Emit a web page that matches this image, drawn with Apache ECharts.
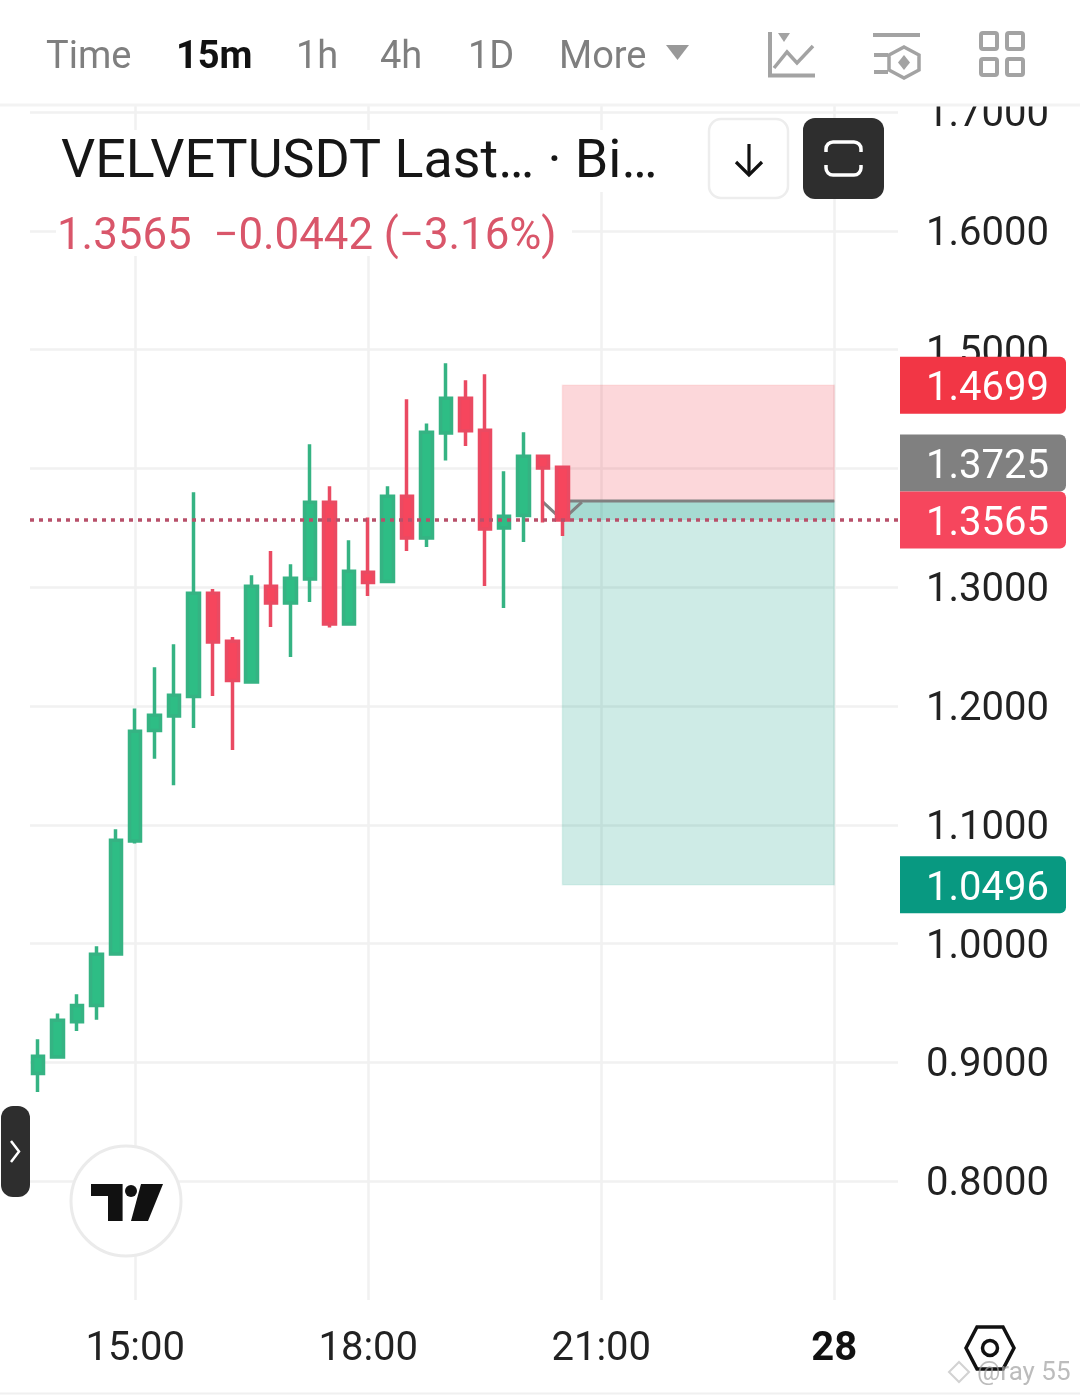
<!DOCTYPE html>
<html><head><meta charset="utf-8">
<style>html,body{margin:0;padding:0;background:#fff}#c{width:1080px;height:1395px}</style>
<script src="https://cdn.jsdelivr.net/npm/echarts@6/dist/echarts.min.js"></script>
</head><body><div id="c"></div>
<script>
const categories = ['13:45','14:00','14:15','14:30','14:45','15:00','15:15','15:30','15:45','16:00','16:15','16:30','16:45','17:00','17:15','17:30','17:45','18:00','18:15','18:30','18:45','19:00','19:15','19:30','19:45','20:00','20:15','20:30','20:45','21:00','21:15','21:30','21:45','22:00','22:15','22:30','22:45','23:00','23:15','23:30','23:45','28','00:15','00:30','00:45','01:00'];
const xTickLabels = ['15:00','18:00','21:00','28'];
const opens  = [.8906,.9045,.9343,.9478,.9912,1.0864,1.1793,1.1916,1.2079,1.2949,1.2545,1.2202,1.3008,1.2867,1.3069,1.3715,1.2690,1.3125,1.3047,1.3765,1.3414,1.4298,1.4590,1.4321,1.3498,1.3603,1.4102,1.4009];
const closes = [.9051,.9354,.9478,.9910,1.0870,1.1787,1.1922,1.2090,1.2949,1.2539,1.2214,1.3008,1.2867,1.3075,1.3715,1.2690,1.3134,1.3039,1.3765,1.3414,1.4304,1.4590,1.4318,1.3490,1.3597,1.4102,1.4003,1.3565];
const lows   = [.8751,.9032,.9264,.9360,.9904,1.0842,1.1557,1.1332,1.1815,1.2084,1.1630,1.2195,1.2665,1.2412,1.2875,1.2660,1.2682,1.2926,1.3040,1.3305,1.3338,1.4066,1.4189,1.3010,1.2825,1.3380,1.3544,1.3431];
const highs  = [.9194,.9411,.9573,.9977,1.0962,1.1978,1.2326,1.2519,1.3799,1.2985,1.2581,1.3100,1.3305,1.3193,1.4203,1.3849,1.3395,1.3586,1.3849,1.4582,1.4377,1.4885,1.4742,1.4792,1.3976,1.4304,1.4102,1.4024];
const stopPrice = 1.4699, entryPrice = 1.3725, lastPrice = 1.3565, targetPrice = 1.0496;
const positionStart = '20:30', positionEnd = '28';
const entryHook = [[26,1.3717],[27,1.3565],[28,1.3717]];
const entryLine = [[27,1.3725],[41,1.3725]];
const navLabels = ['Time','15m','1h','4h','1D','More'];
const titleText = 'VELVETUSDT Last… · Bi…';
const legendText = '1.3565  −0.0442 (−3.16%)';

const GREEN='#2EBD85', RED='#F6465D', GRID='#F1F1F1', ICON='#A3A3A3', NAV='#7F7F7F';
const yMin=0.7, yMax=1.7059;
const Z=50;
const txt=(text,x,y,font,fill,align)=>({type:'text',z:Z+2,style:{text,x,y,font,fill,textAlign:align||'left',textVerticalAlign:'middle'}});
const navX=[46,176,296,380,468,559];
const graphics=[
 {type:'rect',z:Z,shape:{x:56,y:130,width:614,height:62},style:{fill:'#fff'}},
 {type:'rect',z:Z,shape:{x:56,y:190,width:516,height:66},style:{fill:'#fff'}},
 {type:'rect',z:Z,shape:{x:0,y:0,width:1080,height:105},style:{fill:'#fff'}},
 {type:'line',z:Z,shape:{x1:0,y1:105,x2:1080,y2:105},style:{stroke:'#F3F3F3',lineWidth:3}},
 ...navLabels.map((t,i)=>txt(t,navX[i],58.5,(i===1?'bold ':'')+'38px Roboto',i===1?'#111':NAV)),
 {type:'polygon',z:Z+2,shape:{points:[[666,45],[689,45],[677.5,60]]},style:{fill:'#999'}},
 // chart icon
 {type:'polyline',z:Z+2,shape:{points:[[770,32],[770,75.5],[815,75.5]]},style:{stroke:ICON,lineWidth:4,fill:null}},
 {type:'polyline',z:Z+2,shape:{points:[[774,68],[787,52],[797,63],[813,46]]},style:{stroke:ICON,lineWidth:3.5,fill:null}},
 {type:'polygon',z:Z+2,shape:{points:[[778,33],[790,33],[784,42]]},style:{fill:ICON}},
 // indicators icon
 {type:'line',z:Z+2,shape:{x1:873,y1:35,x2:920,y2:35},style:{stroke:ICON,lineWidth:4}},
 {type:'line',z:Z+2,shape:{x1:874,y1:55,x2:888,y2:55},style:{stroke:ICON,lineWidth:4}},
 {type:'line',z:Z+2,shape:{x1:874,y1:72,x2:888,y2:72},style:{stroke:ICON,lineWidth:4}},
 {type:'polygon',z:Z+3,shape:{points:[[904,47],[919,55],[919,70],[904,78],[889,70],[889,55]]},style:{stroke:ICON,lineWidth:3.5,fill:'#fff'}},
 {type:'polygon',z:Z+4,shape:{points:[[904,55],[910,62.5],[904,70],[898,62.5]]},style:{fill:ICON}},
 // grid icon
 ...[[981,33],[1007,33],[981,59],[1007,59]].map(p=>({type:'rect',z:Z+2,shape:{x:p[0],y:p[1],width:16,height:16,r:2},style:{stroke:ICON,lineWidth:4,fill:null}})),
 // buttons
 {type:'rect',z:Z+2,shape:{x:709,y:119,width:79,height:79,r:12},style:{fill:'#fff',stroke:'#EDEDED',lineWidth:2.5}},
 {type:'line',z:Z+3,shape:{x1:749,y1:144,x2:749,y2:175},style:{stroke:'#111',lineWidth:3.2}},
 {type:'polyline',z:Z+3,shape:{points:[[736,162],[749,175],[762,162]]},style:{stroke:'#111',lineWidth:3.2,fill:null}},
 {type:'rect',z:Z+2,shape:{x:803,y:118,width:81,height:81,r:12},style:{fill:'#2E2E2E'}},
 {type:'rect',z:Z+3,shape:{x:826,y:142,width:35,height:33,r:7},style:{stroke:'#fff',lineWidth:3.5,fill:null}},
 {type:'rect',z:Z+4,shape:{x:822,y:152,width:43,height:13},style:{fill:'#2E2E2E'}},
 txt(titleText,61,164,'53.8px Roboto','#161616'),
 txt(legendText,57,238,'43.8px Roboto','#D9566A'),
 // side handle
 {type:'rect',z:Z+2,shape:{x:1,y:1106,width:29,height:91,r:12},style:{fill:'#2E2E2E'}},
 {type:'polyline',z:Z+3,shape:{points:[[11,1141],[19,1151.5],[11,1162]]},style:{stroke:'#fff',lineWidth:2.5,fill:null}},
 // logo
 {type:'circle',z:Z+2,shape:{cx:126,cy:1201,r:55},style:{fill:'#fff',stroke:'#EBEBEB',lineWidth:3}},
 {type:'polygon',z:Z+3,shape:{points:[[91,1184],[122.6,1184],[122.6,1221],[108,1221],[108,1196],[91,1196]]},style:{fill:'#111'}},
 {type:'circle',z:Z+3,shape:{cx:131,cy:1191,r:6},style:{fill:'#111'}},
 {type:'polygon',z:Z+3,shape:{points:[[141,1184],[163,1184],[148,1221],[131,1221]]},style:{fill:'#111'}},
 // settings
 {type:'polygon',z:Z+2,shape:{points:[[977,1327],[1003,1327],[1014,1348],[1003,1369],[977,1369],[966,1348]]},style:{stroke:'#111',lineWidth:3.5,fill:null}},
 {type:'circle',z:Z+2,shape:{cx:990,cy:1348,r:7.5},style:{stroke:'#111',lineWidth:3.5,fill:null}},
 // watermark
 {type:'polygon',z:Z+3,shape:{points:[[959,1362],[969,1372],[959,1382],[949,1372]]},style:{stroke:'rgba(180,180,180,.6)',lineWidth:2,fill:null}},
 txt('@ray 55',977,1373,'26px Roboto','rgba(160,160,160,.7)'),
 {type:'line',z:Z,shape:{x1:0,y1:1393.5,x2:1080,y2:1393.5},style:{stroke:'#F0F0F0',lineWidth:2}}
];

const chart=echarts.init(document.getElementById('c'),null,{renderer:'canvas',width:1080,height:1395});
const tagFill={[stopPrice]:'#F23645',[entryPrice]:'#808080',[lastPrice]:'#F6465D',[targetPrice]:'#089981'};
const TAGH=57;
chart.setOption({
 animation:false,
 backgroundColor:'#fff',
 graphic:{elements:graphics},
 grid:[
  {left:30,top:105,width:868,height:1195},
  {left:28.4,top:105,width:893.3,height:1195}
 ],
 xAxis:[
  {gridIndex:0,type:'category',data:categories,boundaryGap:false,show:false},
  {gridIndex:1,type:'category',data:categories,boundaryGap:true,
   axisLine:{show:false},axisTick:{show:false},
   splitLine:{show:true,alignWithLabel:true,interval:(i,v)=>xTickLabels.includes(v),lineStyle:{color:GRID,width:2.5}},
   axisLabel:{interval:(i,v)=>xTickLabels.includes(v),margin:30,fontFamily:'Roboto',
     formatter:v=>v==='28'?'{b|28}':'{n|'+v+'}',
     rich:{n:{fontSize:40,fontFamily:'Roboto',color:'#222'},b:{fontSize:40,fontFamily:'Roboto',fontWeight:'bold',color:'#111'}}}}
 ],
 yAxis:[
  {gridIndex:0,type:'value',position:'right',min:yMin,max:yMax,interval:0.1,
   axisLine:{show:false},axisTick:{show:false},
   splitLine:{show:true,showMinLine:false,showMaxLine:false,lineStyle:{color:GRID,width:2.5}},
   axisLabel:{align:'right',verticalAlign:'top',lineHeight:8,margin:151,showMinLabel:false,showMaxLabel:false,fontSize:40,fontFamily:'Roboto',color:'#222',formatter:v=>v.toFixed(4)}},
  {gridIndex:1,type:'value',min:yMin,max:yMax,interval:0.1,show:false,splitLine:{show:false}}
 ],
 series:[
  {type:'line',xAxisIndex:1,yAxisIndex:1,z:3,symbol:'none',silent:true,data:entryHook,lineStyle:{color:'#808080',width:3},
   markArea:{silent:true,data:[
    [{xAxis:positionStart,yAxis:stopPrice,itemStyle:{color:'rgba(242,54,69,.2)',borderColor:'rgba(242,54,69,.1)',borderWidth:1.5}},{xAxis:positionEnd,yAxis:entryPrice}],
    [{xAxis:positionStart,yAxis:entryPrice,itemStyle:{color:'rgba(8,153,129,.2)',borderColor:'rgba(8,153,129,.1)',borderWidth:1.5}},{xAxis:positionEnd,yAxis:targetPrice}],
    [{xAxis:positionStart,yAxis:entryPrice,itemStyle:{color:'rgba(8,153,129,.2)'}},{xAxis:positionEnd,yAxis:lastPrice}]
   ]}},
  {type:'line',xAxisIndex:1,yAxisIndex:1,z:3,symbol:'none',silent:true,data:entryLine,lineStyle:{color:'#808080',width:3}},
  {type:'candlestick',xAxisIndex:1,yAxisIndex:1,z:5,barWidth:12,silent:true,
   data:opens.map((o,i)=>[o,closes[i],lows[i],highs[i]]),
   itemStyle:{color:GREEN,color0:RED,borderColor:'#35B383',borderColor0:'#EA4A62',borderWidth:3.5}},
  {type:'line',xAxisIndex:0,yAxisIndex:0,z:6,symbol:'none',silent:true,
   data:[[categories[0],lastPrice],[categories[categories.length-1],lastPrice]],
   lineStyle:{type:[4,5],color:'#B8506A',width:3.5}},
  {type:'custom',coordinateSystem:'cartesian2d',xAxisIndex:0,yAxisIndex:0,z:10,silent:true,
   data:[[0,stopPrice],[0,entryPrice],[0,lastPrice],[0,targetPrice]],
   encode:{x:0,y:1},
   renderItem(params,api){
    const v=api.value(1);
    let y=api.coord([0,v])[1];
    const ly=api.coord([0,lastPrice])[1];
    if(v!==lastPrice && Math.abs(y-ly)<TAGH) y=ly-TAGH;
    return {type:'group',children:[
     {type:'rect',shape:{x:900,y:y-TAGH/2,width:166,height:TAGH,r:[0,6,6,0]},style:{fill:tagFill[v]}},
     {type:'text',style:{text:v.toFixed(4),x:1049,y:y+5,textAlign:'right',textVerticalAlign:'middle',font:'40px Roboto',fill:'#fff'}}
    ]};
   }}
 ]
});
</script></body></html>
